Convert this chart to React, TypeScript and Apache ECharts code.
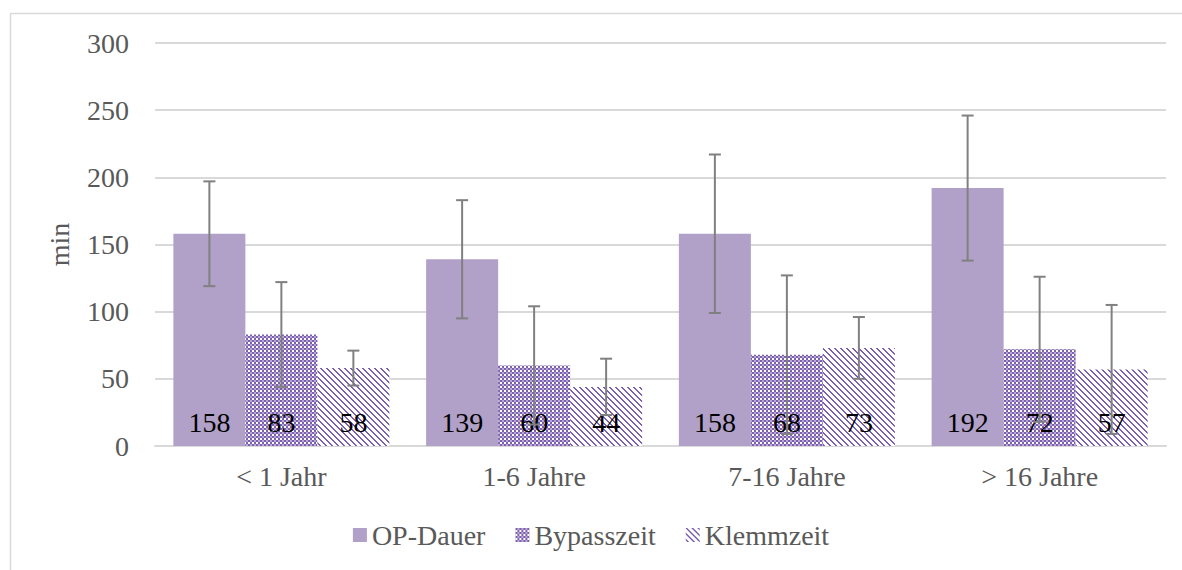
import React, { useEffect, useRef } from "react";
import * as echarts from "echarts";

const categories = ["< 1 Jahr", "1-6 Jahre", "7-16 Jahre", "> 16 Jahre"];
const seriesNames = ["OP-Dauer", "Bypasszeit", "Klemmzeit"];
const opDauer = [158, 139, 158, 192];
const bypasszeit = [83, 60, 68, 72];
const klemmzeit = [58, 44, 73, 57];
const opErr = [39, 44, 59, 54];
const bypassErr = [39, 44, 59, 54];
const klemmErr = [13, 21, 23, 48];
const yTicks = [0, 50, 100, 150, 200, 250, 300];

const FONT = "'Liberation Serif', 'Times New Roman', serif";
const PURPLE = "#7c5fae";

function makePattern(kind: "check" | "stripe"): string {
  const c = document.createElement("canvas");
  if (kind === "check") {
    c.width = 4;
    c.height = 4;
    const ctx = c.getContext("2d")!;
    ctx.fillStyle = "#ffffff";
    ctx.fillRect(0, 0, 4, 4);
    ctx.fillStyle = PURPLE;
    ctx.fillRect(0, 0, 2, 2);
    ctx.fillRect(2, 2, 2, 2);
    ctx.fillStyle = "#b9a8d4";
    ctx.fillRect(2, 0, 2, 2);
  } else {
    const n = 6;
    c.width = n;
    c.height = n;
    const ctx = c.getContext("2d")!;
    ctx.fillStyle = "#ffffff";
    ctx.fillRect(0, 0, n, n);
    ctx.fillStyle = PURPLE;
    for (let i = 0; i < n; i++) {
      ctx.fillRect(i, i, 1, 1);
      ctx.fillRect((i + 1) % n, i, 1, 1);
    }
  }
  return c.toDataURL();
}

export default function App() {
  const ref = useRef<HTMLDivElement>(null);
  useEffect(() => {
    if (!ref.current) return;
    const chart = echarts.init(ref.current, undefined, { renderer: "svg" });
    const checkImg = makePattern("check");
    const stripeImg = makePattern("stripe");
    const colors: any[] = [
      "#b1a0c7",
      { image: checkImg, repeat: "repeat" },
      { image: stripeImg, repeat: "repeat" },
    ];
    const values = [opDauer, bypasszeit, klemmzeit];
    const errs = [opErr, bypassErr, klemmErr];
    const barWidth = 72;
    const errData: number[][] = [];
    values.forEach((vals, s) => {
      vals.forEach((v, i) => {
        errData.push([i, s, v - errs[s][i], v + errs[s][i]]);
      });
    });

    const barSeries = seriesNames.map((name, s) => ({
      name,
      type: "bar",
      data: values[s],
      barWidth,
      barGap: "0%",
      itemStyle: { color: colors[s] },
      label: {
        show: true,
        position: "insideBottom",
        distance: 10,
        color: "#000000",
        fontFamily: FONT,
        fontSize: 28,
      },
      z: 2,
    }));

    chart.setOption({
      animation: false,
      graphic: [
        {
          type: "rect",
          shape: { x: 10.5, y: 13.5, width: 1200, height: 600 },
          style: { fill: "none", stroke: "#d9d9d9", lineWidth: 1.5 },
          silent: true,
        },
      ],
      grid: { left: 155, right: 16, top: 43, bottom: 124 },
      legend: {
        bottom: 16,
        left: "center",
        data: seriesNames,
        itemWidth: 14,
        itemHeight: 14,
        itemGap: 30,
        icon: "rect",
        textStyle: { fontFamily: FONT, fontSize: 28, color: "#595959" },
      },
      xAxis: {
        type: "category",
        data: categories,
        axisLine: { lineStyle: { color: "#d9d9d9", width: 2 } },
        axisTick: { show: false },
        axisLabel: { fontFamily: FONT, fontSize: 28, color: "#595959", margin: 16 },
      },
      yAxis: {
        type: "value",
        min: yTicks[0],
        max: yTicks[yTicks.length - 1],
        interval: 50,
        name: "min",
        nameLocation: "middle",
        nameGap: 82,
        nameTextStyle: { fontFamily: FONT, fontSize: 28, color: "#595959" },
        axisLine: { show: false },
        axisTick: { show: false },
        splitLine: { lineStyle: { color: "#d9d9d9", width: 2 } },
        axisLabel: { fontFamily: FONT, fontSize: 28, color: "#595959", margin: 26 },
      },
      series: [
        ...barSeries,
        {
          type: "custom",
          name: "err",
          data: errData,
          z: 5,
          silent: true,
          renderItem: (params: any, api: any) => {
            const cat = api.value(0);
            const s = api.value(1);
            const lo = api.coord([cat, api.value(2)]);
            const hi = api.coord([cat, api.value(3)]);
            const x = lo[0] + (s - 1) * barWidth;
            const cap = 6;
            const style = { stroke: "#808080", lineWidth: 2 };
            return {
              type: "group",
              children: [
                { type: "line", shape: { x1: x, y1: lo[1], x2: x, y2: hi[1] }, style },
                { type: "line", shape: { x1: x - cap, y1: lo[1], x2: x + cap, y2: lo[1] }, style },
                { type: "line", shape: { x1: x - cap, y1: hi[1], x2: x + cap, y2: hi[1] }, style },
              ],
            };
          },
        },
      ],
    });
    return () => chart.dispose();
  }, []);
  return (
    <div
      ref={ref}
      style={{ position: "fixed", left: 0, top: 0, width: 1182, height: 570, background: "#fff" }}
    />
  );
}
